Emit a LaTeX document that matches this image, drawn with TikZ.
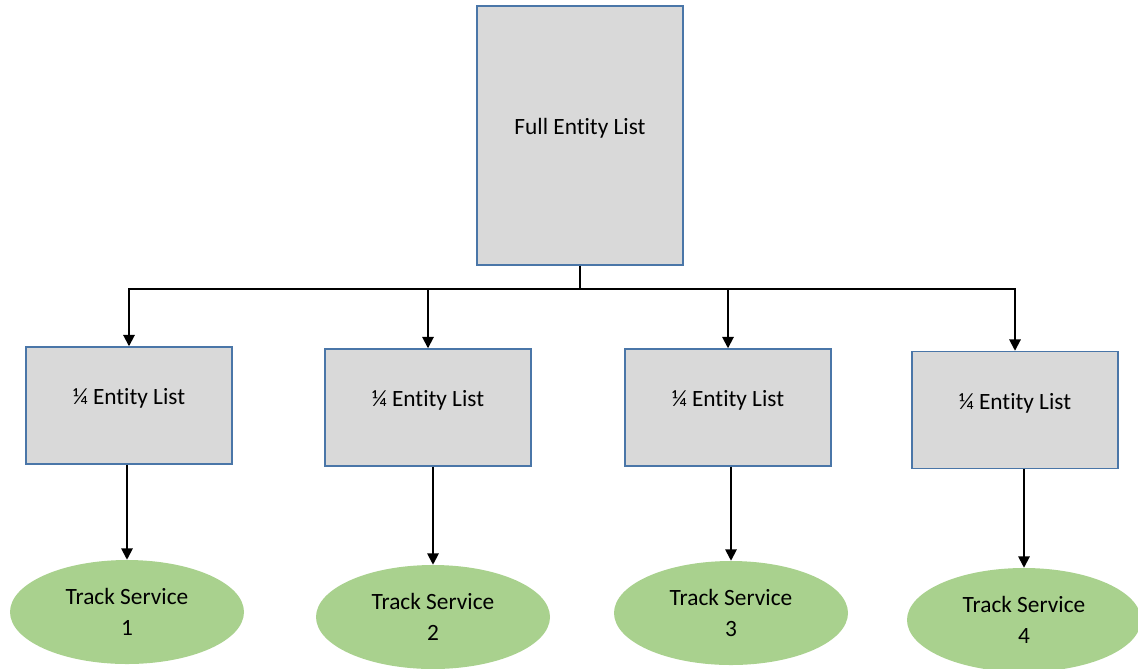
\documentclass[tikz,border=0pt]{standalone}
\usepackage{fontspec}
\setmainfont[Ligatures=NoCommon]{Carlito}
\usepackage{tikz}
\usetikzlibrary{arrows.meta, positioning, shapes.geometric}
\definecolor{boxgray}{HTML}{D9D9D9}
\definecolor{boxblue}{HTML}{4A76A8}
\definecolor{svcgreen}{HTML}{A9D18E}

\begin{document}
\begin{tikzpicture}[x=0.75pt, y=-0.75pt,
        listbox/.style={rectangle, draw=boxblue, line width=1.1pt,
                     fill=boxgray, minimum width=154.5pt, text depth=13pt,
                     font=\fontsize{17.5}{21}\selectfont},
        svc/.style={ellipse, fill=svcgreen, minimum width=175.5pt,
                     minimum height=78pt, inner sep=0pt, align=center,
                     font=\fontsize{17.5}{21}\selectfont},
        arr/.style={-{Triangle[length=8.5pt, width=8.5pt]}, line width=1.4pt, black}
    ]
        \useasboundingbox (0,0) rectangle (1138,668);
        \node[listbox, minimum height=194.25pt] (full) at (580,135.5) {Full Entity List};
        \node[listbox, minimum height=87.75pt] (q1) at (129,405.5)  {¼ Entity List};
        \node[listbox, minimum height=87.75pt] (q2) at (428,407.5)  {¼ Entity List};
        \node[listbox, minimum height=87.75pt] (q3) at (728,407.5)  {¼ Entity List};
        \node[listbox, minimum height=87.75pt] (q4) at (1015,410)   {¼ Entity List};
        \node[svc] (s1) at (127,612)  {Track Service\\[2pt]1};
        \node[svc] (s2) at (433,617)  {Track Service\\[2pt]2};
        \node[svc] (s3) at (731,613)  {Track Service\\[2pt]3};
        \node[svc] (s4) at (1024,620) {Track Service\\[2pt]4};
        \draw[line width=1.4pt] (full.south) -- ++(0,23) coordinate (bus);
        \foreach \q in {q1,q2,q3,q4} \draw[arr] (bus) -| (\q.north);
        \foreach \n in {1,2,3,4} \draw[arr] (q\n.south -| s\n.north) -- (s\n.north);
    \end{tikzpicture}
\end{document}
